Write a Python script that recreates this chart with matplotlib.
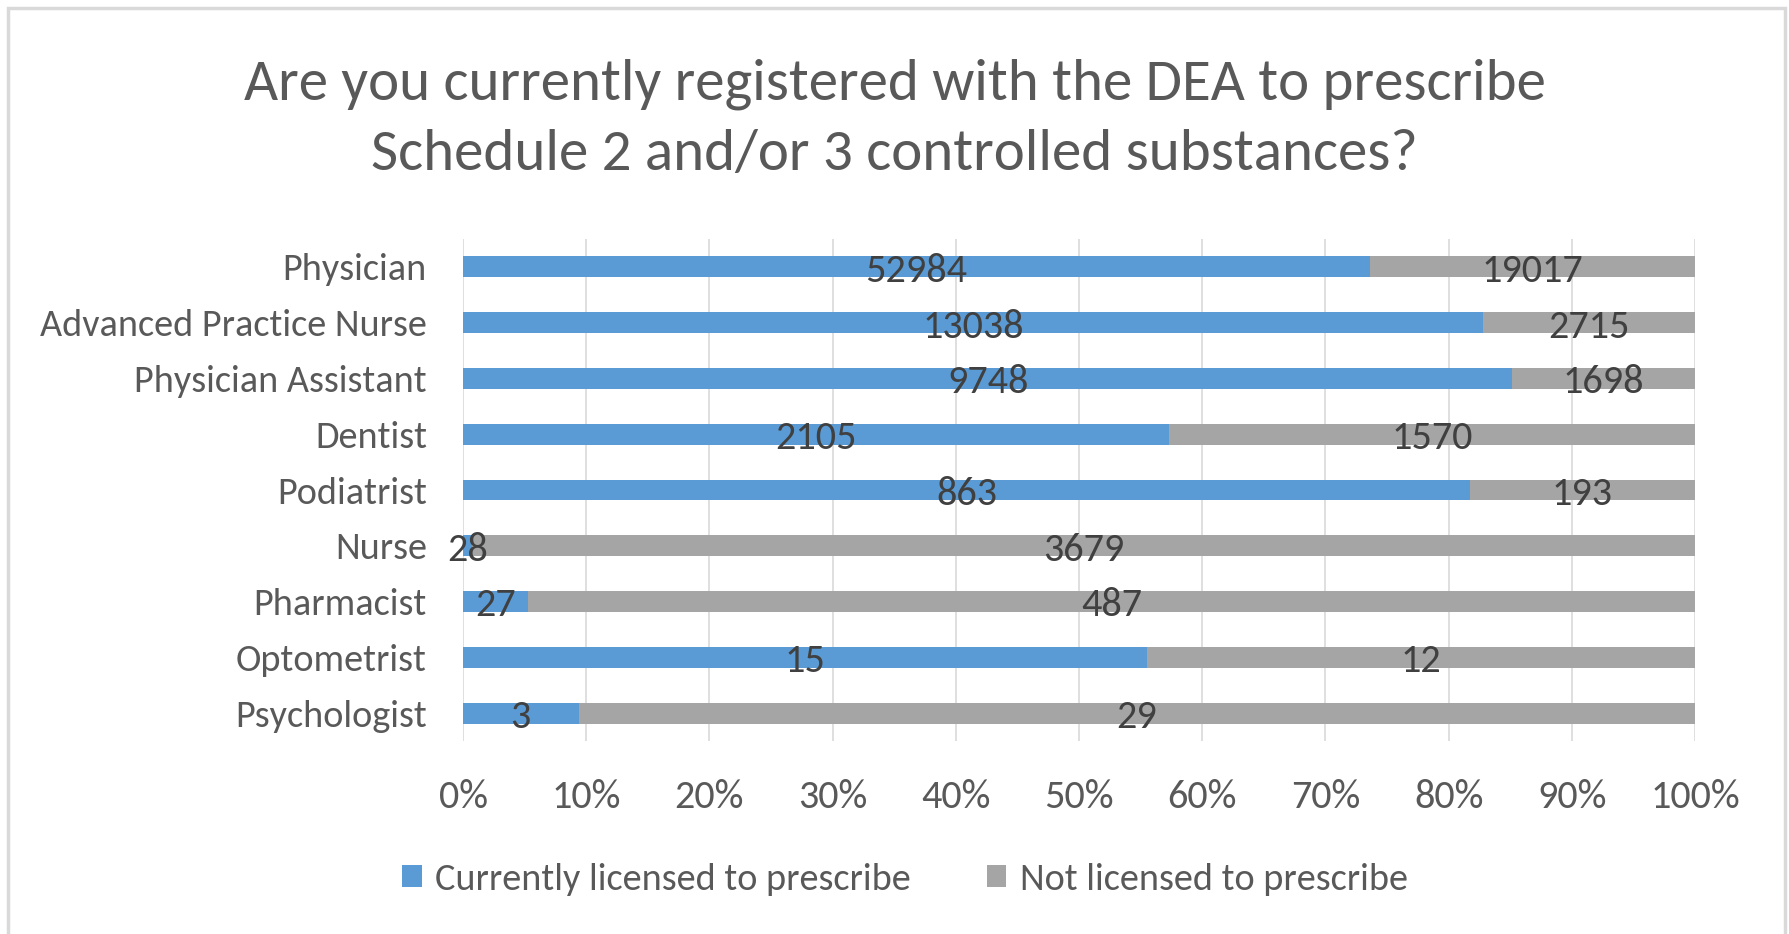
import matplotlib
matplotlib.use("Agg")
import matplotlib.pyplot as plt
from matplotlib.patches import Rectangle, Patch
from matplotlib import font_manager
import numpy as np

# data
categories = ["Physician", "Advanced Practice Nurse", "Physician Assistant", "Dentist",
              "Podiatrist", "Nurse", "Pharmacist", "Optometrist", "Psychologist"]
licensed = [52984, 13038, 9748, 2105, 863, 28, 27, 15, 3]
not_licensed = [19017, 2715, 1698, 1570, 193, 3679, 487, 12, 29]
x_ticks = [0, 10, 20, 30, 40, 50, 60, 70, 80, 90, 100]
series_names = ["Currently licensed to prescribe", "Not licensed to prescribe"]

BLUE = "#5B9BD5"
GRAY = "#A5A5A5"
TEXT = "#595959"
LABEL = "#404040"
GRID = "#D9D9D9"

installed = {f.name for f in font_manager.fontManager.ttflist}
families = [f for f in ["Carlito", "Lato", "DejaVu Sans"] if f in installed]
plt.rcParams['font.family'] = families

W, H = 1789, 934
fig = plt.figure(figsize=(W / 100, H / 100), dpi=100)
fig.patch.set_facecolor("white")

# outer chart frame
fig.patches.append(Rectangle((8 / W, -0.05), (1785 - 8) / W, 1.05 - 8 / H,
                             transform=fig.transFigure, fill=False,
                             edgecolor=GRID, linewidth=2.5))

ax = fig.add_axes([463 / W, 1 - 741 / H, (1695 - 463) / W, (741 - 239) / H])

lic = np.array(licensed, dtype=float)
nlic = np.array(not_licensed, dtype=float)
tot = lic + nlic
p1 = lic / tot * 100
p2 = nlic / tot * 100
y = np.arange(len(categories))

ax.barh(y, p1, height=0.375, color=BLUE)
ax.barh(y, p2, left=p1, height=0.375, color=GRAY)

FS = 27.5
for i in range(len(categories)):
    ax.text(p1[i] / 2, y[i] + 0.07, str(licensed[i]), ha="center", va="center",
            fontsize=29, color=LABEL)
    ax.text(p1[i] + p2[i] / 2, y[i] + 0.07, str(not_licensed[i]), ha="center",
            va="center", fontsize=29, color=LABEL)

ax.set_xlim(0, 100)
ax.set_ylim(len(categories) - 0.5, -0.5)
ax.set_yticks(y)
ax.set_yticklabels(categories)
ax.set_xticks(x_ticks)
ax.set_xticklabels([f"{t}%" for t in x_ticks])
ax.tick_params(axis="both", length=0, labelsize=FS, labelcolor=TEXT)
ax.tick_params(axis="x", labelsize=29, pad=27)
ax.tick_params(axis="y", pad=26)
for s in ax.spines.values():
    s.set_visible(False)
ax.xaxis.grid(True, color=GRID, linewidth=1.2)
ax.set_axisbelow(True)

fig.text(0.5, 1 - 119 / H,
         "Are you currently registered with the DEA to prescribe\nSchedule 2 and/or 3 controlled substances?",
         ha="center", va="center", fontsize=42.5, color=TEXT, linespacing=1.46)

handles = [Patch(facecolor=BLUE), Patch(facecolor=GRAY)]
fig.legend(handles, series_names, loc="center", bbox_to_anchor=(905 / W, 1 - 879 / H),
           ncol=2, frameon=False, fontsize=FS, labelcolor=TEXT,
           handlelength=0.5, handleheight=0.5, handletextpad=0.35, columnspacing=2.0)

fig.savefig("out.png", dpi=100)
